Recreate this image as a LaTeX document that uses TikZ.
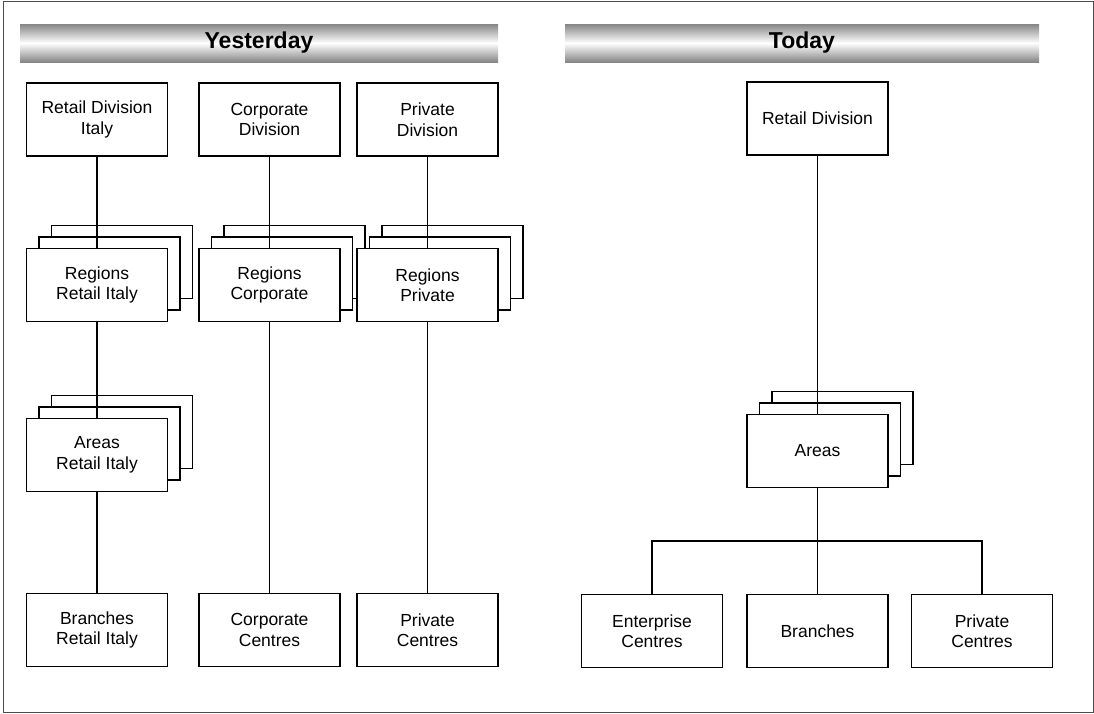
\documentclass[tikz,border=0pt]{standalone}
\usepackage{fontspec}
\setmainfont{Liberation Sans}
\usetikzlibrary{shadows}
\tikzset{
  box/.style={draw=black, fill=white, line width=1.1pt, minimum width=141pt, minimum height=73pt,
    inner sep=0pt, align=center, font=\fontsize{17.5}{20.5}\selectfont},
  stackbox/.style={box, double copy shadow={shadow xshift=12.5pt, shadow yshift=11.5pt, draw=black, fill=white, line width=1.1pt}},
  link/.style={draw=black, line width=1.1pt},
  header/.style={draw=none, top color=gray!95, bottom color=gray!95, middle color=white,
    minimum height=38pt, inner sep=0pt, font=\fontsize{23}{25}\selectfont\bfseries}
}
\begin{document}
\begin{tikzpicture}[x=1pt,y=-1pt]
\useasboundingbox (0,0) rectangle (1094,713);
\draw[draw=gray!60!black, line width=1pt] (3,1) rectangle (1093,712);

% headers
\node[header, minimum width=478pt] (hy) at (259,43) {Yesterday};
\node[header, minimum width=474pt] (ht) at (802,43) {Today};

% Yesterday column 1
\node[box] (rdi) at (97,119.5) {Retail Division\\Italy};
\node[stackbox] (rri) at (97,285) {Regions\\Retail Italy};
\node[stackbox] (ari) at (97,455) {Areas\\Retail Italy};
\node[box] (bri) at (97,630) {Branches\\Retail Italy};

% column 2
\node[box] (cd) at (269.5,119.5) {Corporate\\Division};
\node[stackbox] (rc) at (269.5,285) {Regions\\Corporate};
\node[box] (cc) at (269.5,630) {Corporate\\Centres};

% column 3
\node[box] (pd) at (427.5,119.5) {Private\\Division};
\node[stackbox] (rp) at (427.5,285) {Regions\\Private};
\node[box] (pc) at (427.5,630) {Private\\Centres};

% Today
\node[box] (rd) at (817.5,118.5) {Retail Division};
\node[stackbox] (ar) at (817.5,451) {Areas};
\node[box] (ec) at (652,631) {Enterprise\\Centres};
\node[box] (br) at (817.5,631) {Branches};
\node[box] (tpc) at (982,631) {Private\\Centres};
\coordinate (bus) at (817.5,541);

% connectors
\draw[link] (rdi.south) -- (rri.north);
\draw[link] (rri.south) -- (ari.north);
\draw[link] (ari.south) -- (bri.north);
\draw[link] (cd.south) -- (rc.north);
\draw[link] (rc.south) -- (cc.north);
\draw[link] (pd.south) -- (rp.north);
\draw[link] (rp.south) -- (pc.north);
\draw[link] (rd.south) -- (ar.north);
\draw[link] (ar.south) -- (bus);
\draw[link] (bus) -| (ec.north);
\draw[link] (bus) -| (tpc.north);
\draw[link] (bus) -- (br.north);
\end{tikzpicture}
\end{document}
